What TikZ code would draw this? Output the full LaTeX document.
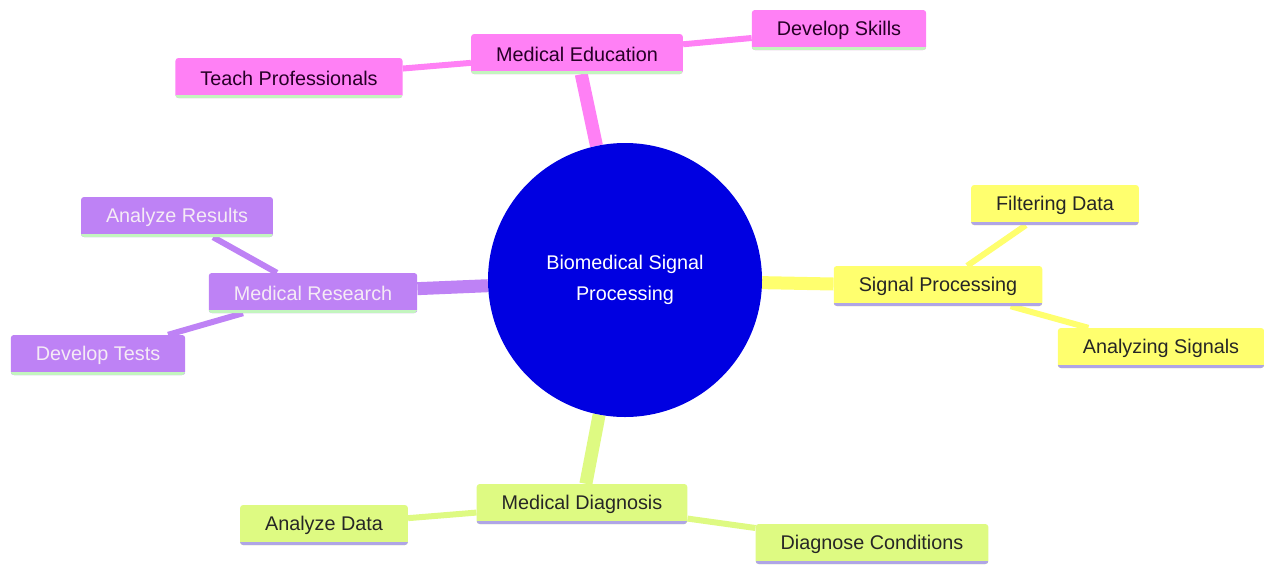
\documentclass[tikz,border=0pt]{standalone}
\usepackage{fontspec}
\setmainfont{Liberation Sans}
\usepackage{tikz}
\usetikzlibrary{backgrounds}

\definecolor{hubblue}{RGB}{0,0,225}
\definecolor{edupink}{RGB}{255,128,245}
\definecolor{sigyellow}{RGB}{255,255,110}
\definecolor{respurple}{RGB}{190,130,245}
\definecolor{diaglime}{RGB}{222,250,130}
\definecolor{mintline}{RGB}{195,245,190}
\definecolor{lavline}{RGB}{175,165,230}

\begin{document}
\begin{tikzpicture}[x=1pt,y=-1pt,
    every node/.style={font=\fontsize{19.8}{24}\selectfont},
    topic/.style={rectangle, rounded corners=3pt, inner xsep=25pt,
        minimum height=40pt, text=black!85},
    under/.style={path picture={\draw[line width=6pt,#1]
        (path picture bounding box.south west) -- (path picture bounding box.south east);}},
    edu/.style={topic, fill=edupink, text=violet!30!black, under=mintline},
    sig/.style={topic, fill=sigyellow, under=lavline},
    res/.style={topic, fill=respurple, text=white!92!violet, under=mintline},
    diag/.style={topic, fill=diaglime, under=lavline},
    trunk/.style={line width=13pt},
    twig/.style={line width=6pt}]
    \useasboundingbox (0,0) rectangle (1264,571);

    \node[circle, fill=hubblue, minimum size=274pt, text=white, align=center,
        font=\fontsize{19.8}{31}\selectfont] (hub) at (625,280)
        {Biomedical Signal\\Processing};

    \node[edu] (edu) at (577,54) {Medical Education};
    \node[edu] (skills) at (839,30) {Develop Skills};
    \node[edu] (teach) at (289,78) {Teach Professionals};

    \node[sig] (sig) at (938,286) {Signal Processing};
    \node[sig] (filter) at (1055,205) {Filtering Data};
    \node[sig] (analyzing) at (1161,348) {Analyzing Signals};

    \node[res] (res) at (313,293) {Medical Research};
    \node[res] (results) at (177,217) {Analyze Results};
    \node[res] (tests) at (98,355) {Develop Tests};

    \node[diag] (diag) at (582,504) {Medical Diagnosis};
    \node[diag] (data) at (324,525) {Analyze Data};
    \node[diag] (conditions) at (872,544) {Diagnose Conditions};

    \begin{pgfonlayer}{background}
        \draw[trunk, edupink] (hub) -- (edu);
        \draw[trunk, sigyellow] (hub) -- (sig);
        \draw[trunk, respurple] (hub) -- (res);
        \draw[trunk, diaglime] (hub) -- (diag);
        \draw[twig, edupink] (edu) -- (skills);
        \draw[twig, edupink] (edu) -- (teach);
        \draw[twig, sigyellow] (sig) -- (filter);
        \draw[twig, sigyellow] (sig) -- (analyzing);
        \draw[twig, respurple] (res) -- (results);
        \draw[twig, respurple] (res) -- (tests);
        \draw[twig, diaglime] (diag) -- (data);
        \draw[twig, diaglime] (diag) -- (conditions);
    \end{pgfonlayer}
\end{tikzpicture}
\end{document}
